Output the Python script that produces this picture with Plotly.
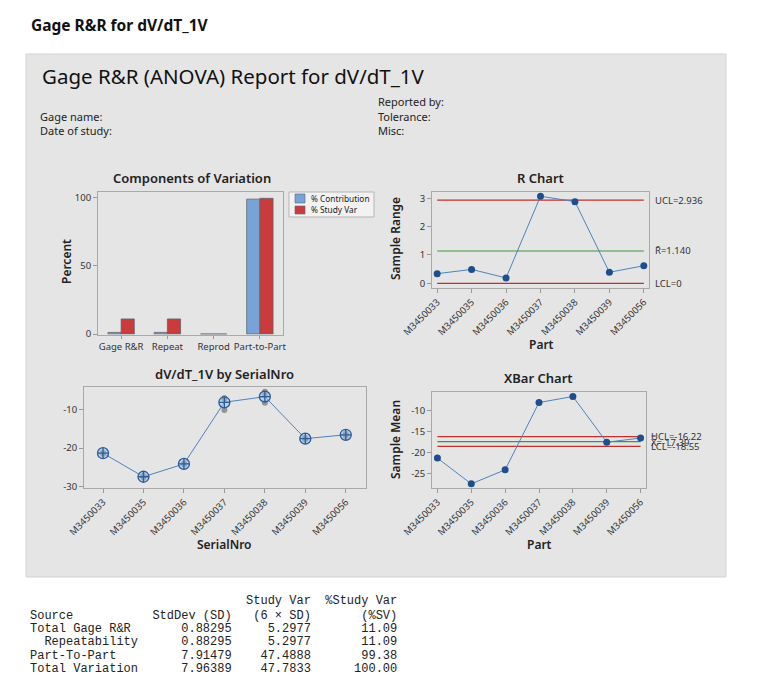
import numpy as np
import plotly.graph_objects as go

W, H = 753, 686      # figure size; the page adds an 8px body margin
OFF = 8

# ---------------- data ----------------
parts = ["M3450033", "M3450035", "M3450036", "M3450037", "M3450038", "M3450039", "M3450056"]
meas_1 = [-21.20, -27.25, -24.05, -7.00, -5.30, -17.35, -16.25]
meas_2 = [-21.31, -27.51, -24.16, -7.10, -6.32, -17.56, -16.50]
meas_3 = [-21.54, -27.74, -24.24, -10.07, -8.18, -17.74, -16.87]

components = ["Gage R&R", "Repeat", "Reprod", "Part-to-Part"]
pct_contribution = [1.23, 1.23, 0.0, 98.77]
pct_study_var = [11.09, 11.09, 0.0, 99.38]

r_ucl, r_bar, r_lcl = 2.936, 1.140, 0.0
x_ucl, x_bar, x_lcl = -16.22, -17.39, -18.55

comp_ticks = [0, 50, 100]
r_ticks = [0, 1, 2, 3]
serial_ticks = [-30, -20, -10]
serial_ticklabels = ["-30", "-20", "-10"]
xbar_ticks = [-25, -20, -15, -10]
xbar_ticklabels = ["-25", "-20", "-15", "-10"]

table_lines = [
    " " * 30 + "Study Var  %Study Var",
    "Source" + " " * 11 + "StdDev (SD)   (6 \u00d7 SD)" + " " * 7 + "(%SV)",
    "Total Gage R&R" + " " * 7 + "0.88295     5.2977" + " " * 7 + "11.09",
    "  Repeatability" + " " * 6 + "0.88295     5.2977" + " " * 7 + "11.09",
    "Part-To-Part" + " " * 9 + "7.91479    47.4888" + " " * 7 + "99.38",
    "Total Variation" + " " * 6 + "7.96389    47.7833" + " " * 6 + "100.00",
]

meas = np.array([meas_1, meas_2, meas_3])
means = meas.mean(axis=0)
ranges = meas.max(axis=0) - meas.min(axis=0)

# ---------------- helpers (page pixel -> paper) ----------------
def px(x):
    return (x - OFF) / W

def py(y):
    return 1 - (y - OFF) / H

FONT = "Noto Sans"
BLUE_BAR = "#78a3d6"
RED_BAR = "#cc3b3b"
LINE_BLUE = "#4f82bd"
PT_BLUE = "#1d4f8f"
CL_RED = "#c2302b"
CL_GREEN = "#3a9a3a"
AXLINE = "#a9a9a9"

fig = go.Figure()

# Components of variation bars
fig.add_trace(go.Bar(x=components, y=pct_contribution, name="% Contribution",
                     marker=dict(color=BLUE_BAR, line=dict(color="#5a6470", width=0.8)),
                     xaxis="x", yaxis="y"))
fig.add_trace(go.Bar(x=components, y=pct_study_var, name="% Study Var",
                     marker=dict(color=RED_BAR, line=dict(color="#5a6470", width=0.8)),
                     xaxis="x", yaxis="y"))

# R chart
for val, col in [(r_ucl, CL_RED), (r_bar, CL_GREEN), (r_lcl, CL_RED)]:
    fig.add_trace(go.Scatter(x=[parts[0], parts[-1]], y=[val, val], mode="lines",
                             line=dict(color=col, width=1.2), xaxis="x2", yaxis="y2",
                             hoverinfo="skip"))
fig.add_trace(go.Scatter(x=parts, y=ranges, mode="lines+markers",
                         line=dict(color=LINE_BLUE, width=1),
                         marker=dict(color=PT_BLUE, size=7),
                         xaxis="x2", yaxis="y2"))

# by SerialNro
for row in meas:
    fig.add_trace(go.Scatter(x=parts, y=row, mode="markers",
                             marker=dict(color="rgba(120,120,120,0.75)", size=6),
                             xaxis="x3", yaxis="y3"))
fig.add_trace(go.Scatter(x=parts, y=means, mode="lines+markers",
                         line=dict(color=LINE_BLUE, width=1),
                         marker=dict(symbol="circle-cross", size=11,
                                     color="rgba(160,195,235,0.55)",
                                     line=dict(color="#2c5d99", width=1.3)),
                         xaxis="x3", yaxis="y3"))

# XBar chart
for val, col in [(x_ucl, CL_RED), (x_bar, CL_GREEN), (x_lcl, CL_RED)]:
    fig.add_trace(go.Scatter(x=[parts[0], parts[-1]], y=[val, val], mode="lines",
                             line=dict(color=col, width=1.2), xaxis="x4", yaxis="y4",
                             hoverinfo="skip"))
fig.add_trace(go.Scatter(x=parts, y=means, mode="lines+markers",
                         line=dict(color=LINE_BLUE, width=1),
                         marker=dict(color=PT_BLUE, size=7),
                         xaxis="x4", yaxis="y4"))

tickfont = dict(family=FONT, size=9.5, color="#333")

def axstyle(**kw):
    d = dict(showline=True, mirror=True, linecolor=AXLINE, linewidth=1,
             ticks="outside", ticklen=4, tickcolor="#999", showgrid=False,
             zeroline=False, tickfont=tickfont, fixedrange=True, automargin=False)
    d.update(kw)
    return d

fig.update_layout(
    width=W, height=H, margin=dict(l=0, r=0, t=0, b=0, pad=0, autoexpand=False),
    paper_bgcolor="white", plot_bgcolor="white", showlegend=False,
    barmode="group", bargap=0.43, bargroupgap=0.0,
    font=dict(family=FONT, color="#222"),
    xaxis=axstyle(domain=[px(98), px(283)], anchor="y", type="category",
                  range=[-0.5, 3.5], tickangle=0, ticklen=3),
    yaxis=axstyle(domain=[py(334.5), py(192)], anchor="x", range=[-0.3, 104],
                  tickvals=comp_ticks),
    xaxis2=axstyle(domain=[px(432), px(649)], anchor="y2", type="category",
                   categoryorder="array", categoryarray=parts,
                   range=[-0.15, 6.15], tickangle=-45),
    yaxis2=axstyle(domain=[py(288), py(192)], anchor="x2", range=[-0.165, 3.22],
                   tickvals=r_ticks),
    xaxis3=axstyle(domain=[px(84), px(366)], anchor="y3", type="category",
                   categoryorder="array", categoryarray=parts,
                   range=[-0.47, 6.5], tickangle=-45),
    yaxis3=axstyle(domain=[py(488), py(387)], anchor="x3", range=[-30.43, -4.07],
                   tickvals=serial_ticks, ticktext=serial_ticklabels),
    xaxis4=axstyle(domain=[px(432), px(646)], anchor="y4", type="category",
                   categoryorder="array", categoryarray=parts,
                   range=[-0.16, 6.16], tickangle=-45),
    yaxis4=axstyle(domain=[py(488), py(392)], anchor="x4", range=[-28.5, -5.53],
                   tickvals=xbar_ticks, ticktext=xbar_ticklabels),
)

shapes = [
    dict(type="rect", xref="paper", yref="paper", x0=px(26), x1=px(726),
         y0=py(577), y1=py(54), fillcolor="#e5e5e5",
         line=dict(color="#d2d2d2", width=1), layer="below"),
    # legend box
    dict(type="rect", xref="paper", yref="paper", x0=px(289), x1=px(374),
         y0=py(217), y1=py(192), fillcolor="#f2f2f2",
         line=dict(color="#b5b5b5", width=1)),
    dict(type="rect", xref="paper", yref="paper", x0=px(295), x1=px(305),
         y0=py(203), y1=py(194), fillcolor=BLUE_BAR,
         line=dict(color="#5a6470", width=0.6)),
    dict(type="rect", xref="paper", yref="paper", x0=px(295), x1=px(305),
         y0=py(214), y1=py(206), fillcolor=RED_BAR,
         line=dict(color="#5a6470", width=0.6)),
]
fig.update_layout(shapes=shapes)

ann = []

def text(x, y, s, size=11, xanchor="left", bold=False, angle=0, color="#222",
         family=FONT, weight=None):
    f = dict(family=family, size=size, color=color)
    if weight is not None:
        f["weight"] = weight
    elif bold:
        f["weight"] = "bold"
    ann.append(dict(x=px(x), y=py(y), xref="paper", yref="paper", text=s,
                    showarrow=False, xanchor=xanchor, yanchor="middle",
                    textangle=angle, font=f))

text(29, 25, "Gage R&R for dV/dT_1V", size=15.5, bold=True, color="#111")
text(40, 76, "Gage R&R (ANOVA) Report for dV/dT_1V", size=20.5, color="#111")
text(38, 116.5, "Gage name:", size=11)
text(38, 130, "Date of study:", size=11)
text(376, 102, "Reported by:", size=11)
text(376, 116.5, "Tolerance:", size=11)
text(376, 130, "Misc:", size=11)

text(191.5, 177.5, "Components of Variation", size=13, xanchor="center", weight=600)
text(540.5, 177.5, "R Chart", size=13, xanchor="center", weight=600)
text(224, 373.5, "dV/dT_1V by SerialNro", size=13, xanchor="center", weight=600)
text(538.5, 377.5, "XBar Chart", size=13, xanchor="center", weight=600)

text(66, 262, "Percent", size=12, xanchor="center", angle=-90, weight=600)
text(395, 239, "Sample Range", size=12, xanchor="center", angle=-90, weight=600)
text(541, 344, "Part", size=12, xanchor="center", weight=600)
text(224.5, 544, "SerialNro", size=12, xanchor="center", weight=600)
text(395, 440, "Sample Mean", size=12, xanchor="center", angle=-90, weight=600)
text(539, 544, "Part", size=12, xanchor="center", weight=600)

text(309, 198.5, "% Contribution", size=8.3)
text(309, 210, "% Study Var", size=8.3)

# control limit labels (placed at the data values)
for val, lab in [(r_ucl, "UCL=%.3f" % r_ucl), (r_bar, "R\u0304=%.3f" % r_bar), (r_lcl, "LCL=%g" % r_lcl)]:
    ann.append(dict(x=px(653), xref="paper", y=val, yref="y2", text=lab, showarrow=False,
                    xanchor="left", yanchor="middle", font=dict(family=FONT, size=9.5, color="#333")))
for val, lab in [(x_ucl, "UCL=%.2f" % x_ucl), (x_bar, "X\u033f=%.2f" % x_bar), (x_lcl, "LCL=%.2f" % x_lcl)]:
    ann.append(dict(x=px(649), xref="paper", y=val, yref="y4", text=lab, showarrow=False,
                    xanchor="left", yanchor="middle", font=dict(family=FONT, size=9.5, color="#333")))

ys = [601, 615.5, 628.5, 642, 655.5, 669]
for yv, line in zip(ys, table_lines):
    text(28, yv, line.replace(" ", "\u00a0"), size=12, family="Liberation Mono", color="#222")

fig.update_layout(annotations=ann)

fig.write_html("out.html")
